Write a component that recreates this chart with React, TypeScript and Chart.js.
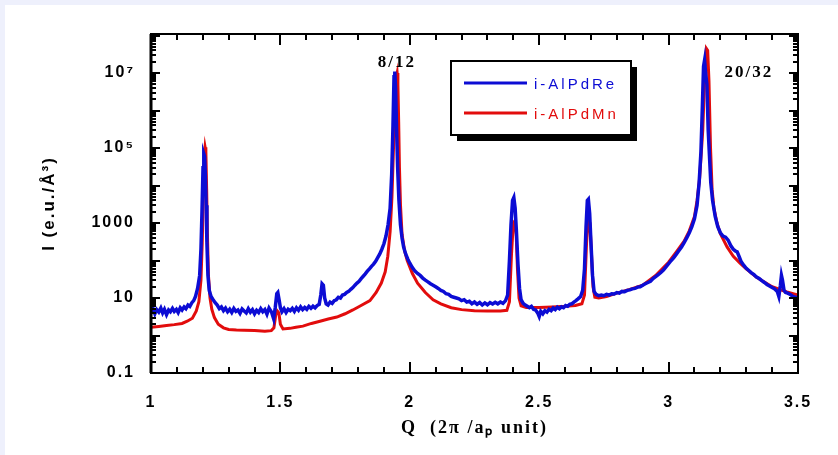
import React, { useEffect, useRef } from "react";
import { Chart, registerables } from "chart.js";

Chart.register(...registerables);

// ---- data ----
const seriesNames = ["i-AlPdRe", "i-AlPdMn"];

const qBlue = [
  1.000, 1.008, 1.015, 1.022, 1.030, 1.038, 1.045, 1.052, 1.060, 1.068, 1.075, 1.083, 1.090, 1.098, 1.105, 1.113,
  1.120, 1.128, 1.135, 1.143, 1.150, 1.158, 1.165, 1.172, 1.180, 1.188, 1.193, 1.197, 1.201, 1.204, 1.207, 1.210,
  1.213, 1.216, 1.220, 1.225, 1.232, 1.240, 1.248, 1.256, 1.264, 1.272, 1.280, 1.288, 1.296, 1.304, 1.312, 1.320,
  1.328, 1.336, 1.344, 1.352, 1.360, 1.368, 1.376, 1.384, 1.392, 1.400, 1.408, 1.416, 1.424, 1.432, 1.440, 1.448,
  1.456, 1.466, 1.474, 1.480, 1.486, 1.490, 1.495, 1.500, 1.506, 1.514, 1.522, 1.530, 1.538, 1.546, 1.554, 1.562,
  1.570, 1.578, 1.586, 1.594, 1.602, 1.610, 1.618, 1.626, 1.634, 1.642, 1.650, 1.656, 1.661, 1.666, 1.671, 1.677,
  1.684, 1.692, 1.700, 1.708, 1.716, 1.724, 1.732, 1.740, 1.748, 1.756, 1.764, 1.772, 1.780, 1.788, 1.796, 1.804,
  1.812, 1.820, 1.828, 1.836, 1.844, 1.852, 1.860, 1.868, 1.876, 1.884, 1.892, 1.900, 1.908, 1.916, 1.924, 1.930,
  1.935, 1.939, 1.942, 1.945, 1.949, 1.953, 1.958, 1.964, 1.970, 1.976, 1.984, 1.992, 2.000, 2.010, 2.020, 2.030,
  2.040, 2.050, 2.060, 2.070, 2.080, 2.090, 2.100, 2.110, 2.120, 2.130, 2.140, 2.150, 2.160, 2.170, 2.180, 2.190,
  2.200, 2.210, 2.220, 2.230, 2.240, 2.250, 2.260, 2.270, 2.280, 2.290, 2.300, 2.310, 2.320, 2.330, 2.340, 2.350,
  2.360, 2.370, 2.378, 2.385, 2.391, 2.397, 2.402, 2.407, 2.412, 2.418, 2.424, 2.430, 2.438, 2.446, 2.454, 2.462,
  2.470, 2.478, 2.486, 2.494, 2.500, 2.506, 2.514, 2.522, 2.530, 2.538, 2.546, 2.554, 2.562, 2.570, 2.578, 2.586,
  2.594, 2.602, 2.610, 2.618, 2.626, 2.634, 2.642, 2.650, 2.660, 2.668, 2.675, 2.681, 2.686, 2.690, 2.695, 2.700,
  2.706, 2.712, 2.720, 2.730, 2.740, 2.750, 2.760, 2.770, 2.780, 2.790, 2.800, 2.810, 2.820, 2.830, 2.840, 2.850,
  2.860, 2.870, 2.880, 2.890, 2.900, 2.910, 2.920, 2.930, 2.940, 2.950, 2.960, 2.970, 2.980, 2.990, 3.000, 3.010,
  3.020, 3.030, 3.040, 3.050, 3.060, 3.070, 3.080, 3.090, 3.100, 3.110, 3.118, 3.125, 3.130, 3.135, 3.139, 3.143,
  3.148, 3.153, 3.158, 3.163, 3.170, 3.180, 3.190, 3.200, 3.210, 3.220, 3.230, 3.240, 3.250, 3.258, 3.265, 3.272,
  3.280, 3.290, 3.300, 3.310, 3.320, 3.330, 3.340, 3.350, 3.360, 3.370, 3.380, 3.390, 3.400, 3.410, 3.420, 3.426,
  3.432, 3.436, 3.440, 3.446, 3.452, 3.460, 3.470, 3.480, 3.490, 3.500,
];
const iBlue = [
  4.5, 5.2, 3.8, 4.9, 4.2, 5.4, 4.0, 5.0, 3.6, 4.8, 4.3, 5.3, 4.4, 5.0, 4.1, 5.5,
  4.8, 5.8, 5.2, 6.5, 6.0, 7.5, 8.5, 11, 18, 40, 200, 2000, 30000, 70000, 60000, 20000,
  3000, 300, 40, 16, 11, 9, 7.5, 6.5, 5.2, 5.8, 4.6, 5.4, 4.3, 5.0, 4.1, 5.3,
  4.4, 4.8, 3.9, 5.1, 4.5, 4.0, 5.2, 4.2, 4.9, 3.8, 4.7, 4.1, 5.2, 4.3, 4.9, 3.7,
  5.4, 4.2, 2.8, 5.5, 13, 14, 9, 5.5, 4.3, 5.2, 4.1, 5.0, 4.6, 5.3, 4.4, 5.5,
  4.7, 5.8, 4.9, 5.6, 5.0, 6.0, 5.3, 6.1, 5.5, 6.3, 6.8, 12, 24, 22, 10, 7,
  6.5, 7.8, 7.2, 8.5, 9.0, 10.5, 10, 12, 12.5, 14, 15, 17, 19, 22, 25, 28,
  33, 38, 44, 52, 60, 70, 80, 95, 120, 150, 200, 280, 450, 900, 2500, 20000,
  4e5, 8e6, 1.1e7, 4e6, 3e5, 3e4, 4000, 900, 400, 230, 150, 110, 85, 65, 52, 45,
  40, 34, 30, 27, 24, 22, 20, 18, 16, 15, 13, 12.5, 11, 10.5, 10, 9.5,
  8.5, 9, 7.8, 8.2, 7.0, 7.8, 6.8, 7.6, 6.5, 7.4, 6.6, 7.5, 6.9, 7.7, 7.0, 7.8,
  7.2, 8.5, 12, 100, 900, 4000, 4800, 2500, 600, 80, 18, 9, 7.2, 6.5, 6.0, 5.5,
  6.0, 5.0, 4.8, 4.0, 3.2, 4.4, 3.8, 4.6, 4.2, 5.0, 4.6, 5.4, 4.9, 5.7, 5.2, 5.8,
  5.5, 6.3, 6.0, 6.8, 7.0, 7.8, 8.5, 9.5, 11, 16, 60, 800, 4000, 4300, 1800, 300,
  40, 15, 12.5, 11.5, 12, 11.5, 12.5, 12, 13, 12.8, 14, 13.5, 15, 14.8, 16, 16.5,
  17.5, 18, 19.5, 20, 22, 24, 26, 28, 33, 37, 42, 48, 56, 68, 82, 100,
  120, 148, 185, 230, 300, 400, 550, 800, 1300, 3000, 12000, 80000, 1e6, 1.5e7, 2.2e7, 1e7,
  5e6, 3e5, 6e4, 1.2e4, 4000, 1500, 800, 550, 450, 420, 350, 250, 200, 180, 170, 130,
  95, 75, 62, 54, 47, 42, 36, 33, 29, 26, 23, 21, 19, 17.5, 15, 11,
  22, 40, 30, 16, 14, 13.5, 12.5, 11, 10.5, 10,
];

const qRed = [
  1.00, 1.03, 1.06, 1.09, 1.12, 1.14, 1.16, 1.175, 1.185, 1.193, 1.198, 1.202, 1.206, 1.209, 1.212, 1.215,
  1.218, 1.222, 1.228, 1.235, 1.245, 1.26, 1.28, 1.30, 1.33, 1.36, 1.40, 1.44, 1.465, 1.475, 1.482, 1.488,
  1.494, 1.50, 1.51, 1.537, 1.56, 1.587, 1.62, 1.653, 1.685, 1.718, 1.75, 1.78, 1.81, 1.846, 1.87, 1.89,
  1.905, 1.915, 1.924, 1.931, 1.937, 1.943, 1.948, 1.951, 1.954, 1.957, 1.960, 1.964, 1.970, 1.980, 1.990, 2.010,
  2.030, 2.060, 2.090, 2.120, 2.160, 2.200, 2.250, 2.300, 2.350, 2.375, 2.385, 2.393, 2.400, 2.406, 2.411, 2.416,
  2.422, 2.430, 2.450, 2.500, 2.550, 2.600, 2.640, 2.665, 2.675, 2.683, 2.690, 2.696, 2.702, 2.708, 2.715, 2.730,
  2.760, 2.800, 2.850, 2.900, 2.950, 3.000, 3.030, 3.060, 3.080, 3.100, 3.110, 3.120, 3.132, 3.140, 3.146, 3.151,
  3.156, 3.162, 3.168, 3.175, 3.187, 3.200, 3.226, 3.250, 3.276, 3.300, 3.340, 3.400, 3.457, 3.500,
];
const iRed = [
  1.65, 1.75, 1.85, 1.95, 2.1, 2.4, 2.9, 4.5, 8, 30, 300, 5000, 60000, 105000, 80000, 8000,
  500, 40, 10, 5, 3, 2, 1.6, 1.45, 1.4, 1.38, 1.35, 1.3, 1.35, 1.6, 3.5, 4.5,
  4.0, 2.0, 1.5, 1.55, 1.65, 1.78, 2.1, 2.4, 2.75, 3.1, 3.8, 4.8, 6.2, 8.5, 14, 25,
  50, 130, 600, 5000, 1e5, 2e6, 8e6, 1e7, 5e6, 5e5, 3e4, 3000, 500, 180, 100, 45,
  25, 14, 9, 7, 5.5, 4.9, 4.6, 4.5, 4.5, 4.7, 8, 150, 1000, 1150, 500, 60,
  10, 6.2, 5.6, 5.6, 5.8, 6.0, 6.3, 7, 12, 300, 1300, 1000, 150, 20, 10.5, 10,
  11, 13.5, 17, 22, 40, 90, 170, 330, 620, 1500, 4000, 16000, 3e5, 1e7, 4.5e7, 4e7,
  6e6, 1e5, 8000, 2500, 1000, 520, 230, 130, 85, 60, 36, 20, 14.5, 12,
];

const xTickValues = [1, 1.5, 2, 2.5, 3, 3.5];
const xTickLabels = ["1", "1.5", "2", "2.5", "3", "3.5"];
const yTickValues = [0.1, 10, 1000, 1e5, 1e7];
const yTickLabels = ["0.1", "10", "1000", "10\u2075", "10\u2077"];

const peakLabels = ["8/12", "20/32"];
const peakQ = [1.95, 3.31];
const peakI = [1.9e7, 1.0e7];

const xTitle = "Q  (2\u03c0 /a\u209a unit)";
const yTitle = "I (e.u./\u00c5\u00b3)";

const BLUE = "#0c0cd4";
const RED = "#e20c0c";

const framePlugin = {
  id: "frameTicks",
  beforeDraw(chart: any) {
    (chart.ctx as any).letterSpacing = "2px";
  },
  afterDatasetsDraw(chart: any) {
    const { ctx, chartArea, scales } = chart;
    const { left, right, top, bottom } = chartArea;
    const x = scales.x;
    const y = scales.y;
    ctx.save();
    (ctx as any).letterSpacing = "0px";
    ctx.strokeStyle = "#000";
    ctx.lineWidth = 2;
    ctx.beginPath();
    // x ticks (inward, top and bottom)
    for (let i = 0; i <= 25; i++) {
      const v = x.min + i * 0.1;
      const px = Math.round(x.getPixelForValue(v));
      const len = i % 5 === 0 ? 11 : 6;
      ctx.moveTo(px, bottom);
      ctx.lineTo(px, bottom - len);
      ctx.moveTo(px, top);
      ctx.lineTo(px, top + len);
    }
    // y ticks (inward, left and right)
    for (let n = -1; n <= 8; n++) {
      for (let k = 1; k <= 9; k++) {
        const v = k * Math.pow(10, n);
        if (v < y.min * 0.999 || v > y.max) continue;
        const py = Math.round(y.getPixelForValue(v));
        const len = k === 1 ? 9 : 5;
        ctx.moveTo(left, py);
        ctx.lineTo(left + len, py);
        ctx.moveTo(right, py);
        ctx.lineTo(right - len, py);
      }
    }
    ctx.stroke();
    ctx.lineWidth = 2;
    ctx.strokeRect(left, top, right - left, bottom - top);
    ctx.lineWidth = 3;
    ctx.beginPath();
    ctx.moveTo(left, top);
    ctx.lineTo(left, bottom);
    ctx.stroke();

    // peak annotations
    (ctx as any).letterSpacing = "2px";
    ctx.fillStyle = "#000";
    ctx.font = "bold 17px 'Liberation Serif', serif";
    ctx.textAlign = "center";
    ctx.textBaseline = "middle";
    for (let i = 0; i < peakLabels.length; i++) {
      ctx.fillText(peakLabels[i], x.getPixelForValue(peakQ[i]), y.getPixelForValue(peakI[i]));
    }

    // legend box with drop shadow
    const bx = left + 300;
    const by = top + 27;
    const bw = 180;
    const bh = 74;
    const sh = 6;
    ctx.fillStyle = "#000";
    ctx.fillRect(bx + sh, by + sh, bw, bh);
    ctx.fillStyle = "#fff";
    ctx.fillRect(bx, by, bw, bh);
    ctx.lineWidth = 2;
    ctx.strokeStyle = "#000";
    ctx.strokeRect(bx, by, bw, bh);
    const ds = chart.data.datasets;
    ctx.font = "15px 'Liberation Sans', Arial, sans-serif";
    ctx.textAlign = "left";
    (ctx as any).letterSpacing = "3px";
    for (let i = 0; i < ds.length; i++) {
      const ly = by + 22 + i * 30;
      ctx.strokeStyle = ds[i].borderColor;
      ctx.lineWidth = 3;
      ctx.beginPath();
      ctx.moveTo(bx + 13, ly);
      ctx.lineTo(bx + 76, ly);
      ctx.stroke();
      ctx.fillStyle = ds[i].borderColor;
      ctx.fillText(ds[i].label, bx + 83, ly + 2);
    }
    ctx.restore();
  },
  afterDraw(chart: any) {
    (chart.ctx as any).letterSpacing = "0px";
  },
};

export default function App() {
  const ref = useRef<HTMLCanvasElement | null>(null);
  useEffect(() => {
    document.body.style.margin = "0";
    const canvas = ref.current;
    if (!canvas) return;
    const chart = new Chart(canvas, {
      type: "line",
      data: {
        datasets: [
          {
            label: seriesNames[0],
            data: qBlue.map((q, i) => ({ x: q, y: iBlue[i] })),
            borderColor: BLUE,
            backgroundColor: BLUE,
            borderWidth: 3.5,
            pointRadius: 0,
            tension: 0,
          },
          {
            label: seriesNames[1],
            data: qRed.map((q, i) => ({ x: q, y: iRed[i] })),
            borderColor: RED,
            backgroundColor: RED,
            borderWidth: 3,
            pointRadius: 0,
            tension: 0,
          },
        ],
      },
      options: {
        animation: false,
        responsive: true,
        maintainAspectRatio: false,
        layout: { padding: { left: 0, right: 40, top: 29, bottom: 0 } },
        plugins: { legend: { display: false }, tooltip: { enabled: false } },
        scales: {
          x: {
            type: "linear",
            min: 1,
            max: 3.5,
            afterBuildTicks: (s: any) => {
              s.ticks = xTickValues.map((v) => ({ value: v }));
            },
            afterFit: (s: any) => {
              s.height = 82;
            },
            ticks: {
              autoSkip: false,
              maxRotation: 0,
              padding: 20,
              color: "#000",
              font: { family: "'Liberation Sans', Arial, sans-serif", size: 16, weight: "bold" },
              callback: (v: any) => {
                const idx = xTickValues.findIndex((t) => Math.abs(t - Number(v)) < 1e-6);
                return idx >= 0 ? xTickLabels[idx] : "";
              },
            },
            grid: { display: false, drawTicks: false },
            border: { display: false },
            title: {
              display: true,
              text: xTitle,
              color: "#000",
              padding: { top: 0, bottom: 16 },
              font: { family: "'Liberation Serif', 'Times New Roman', serif", size: 18, weight: "bold" },
            },
          },
          y: {
            type: "logarithmic",
            min: 0.1,
            max: 1.1e8,
            afterBuildTicks: (s: any) => {
              s.ticks = yTickValues.map((v) => ({ value: v }));
            },
            afterFit: (s: any) => {
              s.width = 146;
            },
            ticks: {
              autoSkip: false,
              padding: 16,
              color: "#000",
              font: { family: "'Liberation Sans', Arial, sans-serif", size: 16, weight: "bold" },
              callback: (v: any) => {
                const idx = yTickValues.findIndex((t) => Math.abs(Math.log10(t) - Math.log10(Number(v))) < 1e-6);
                return idx >= 0 ? yTickLabels[idx] : "";
              },
            },
            grid: { display: false, drawTicks: false },
            border: { display: false },
            title: {
              display: true,
              text: yTitle,
              color: "#000",
              padding: { top: 34, bottom: 0 },
              font: { family: "'Liberation Sans', Arial, sans-serif", size: 17, weight: "bold" },
            },
          },
        },
      },
      plugins: [framePlugin],
    });
    return () => chart.destroy();
  }, []);

  return (
    <div style={{ position: "fixed", left: 0, top: 0, width: 838, height: 455, background: "#eef0fc" }}>
      <div style={{ position: "absolute", left: 5, top: 5, width: 833, height: 450, background: "#ffffff" }}>
        <canvas ref={ref} />
      </div>
    </div>
  );
}
